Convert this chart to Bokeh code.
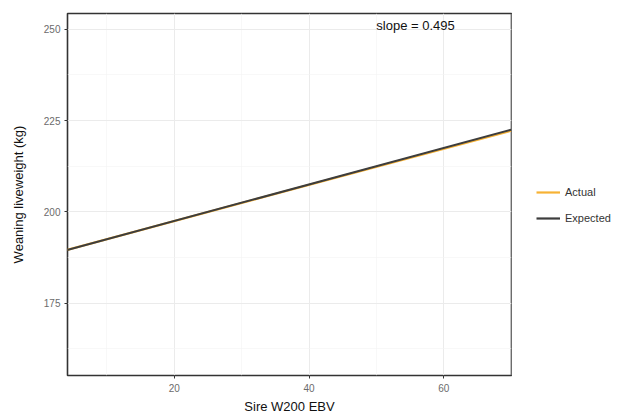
from bokeh.plotting import figure
from bokeh.layouts import row
from bokeh.models import Legend, LegendItem, FixedTicker, Range1d, Label
from bokeh.embed import file_html
from bokeh.resources import INLINE

# data
x_ends = [4.1, 70.0]
actual_y = [189.6, 222.2]
expected_y = [189.55, 222.5]
x_ticks = [20, 40, 60]
x_minor = [10, 30, 50, 70]
y_ticks = [175, 200, 225, 250]
y_minor = [162.5, 187.5, 212.5, 237.5]
slope_text = "slope = 0.495"
slope_pos = (55.8, 251.0)
series_names = ["Actual", "Expected"]
series_colors = ["#f7b234", "#3d3d3d"]

FONT = "Liberation Sans"

p = figure(output_backend="svg", toolbar_location=None,
           width=512, height=416,
           x_range=Range1d(4.15, 70.05), y_range=Range1d(155.2, 254.3),
           min_border_left=67, min_border_top=13, min_border_bottom=38,
           min_border_right=1)

p.background_fill_color = "white"
p.border_fill_color = "white"
p.outline_line_color = "#333333"
p.outline_line_width = 1.6

# grid
p.xaxis.ticker = FixedTicker(ticks=x_ticks, minor_ticks=x_minor)
p.yaxis.ticker = FixedTicker(ticks=y_ticks, minor_ticks=y_minor)
for g in (p.xgrid, p.ygrid):
    g.grid_line_color = "#ebebeb"
    g.grid_line_width = 1
    g.minor_grid_line_color = "#f3f3f3"
    g.minor_grid_line_width = 0.6

for ax in (p.xaxis, p.yaxis):
    ax.axis_line_color = None
    ax.major_tick_line_color = "#333333"
    ax.major_tick_in = 0
    ax.major_tick_out = 3
    ax.minor_tick_line_color = None
    ax.major_label_text_font = FONT
    ax.major_label_text_font_size = "10px"
    ax.major_label_text_color = "#6b6b6b"
    ax.axis_label_text_font = FONT
    ax.axis_label_text_font_size = "13px"
    ax.axis_label_text_font_style = "normal"
    ax.axis_label_text_color = "#111111"

p.xaxis.axis_label = "Sire W200 EBV"
p.yaxis.axis_label = "Weaning liveweight (kg)"
p.xaxis.major_label_standoff = 4
p.yaxis.major_label_standoff = 3
p.xaxis.axis_label_standoff = 4
p.yaxis.axis_label_standoff = 15

p.line(x_ends, actual_y, line_color=series_colors[0], line_width=2.2)
p.line(x_ends, expected_y, line_color=series_colors[1], line_width=2.0)

p.add_layout(Label(x=slope_pos[0], y=slope_pos[1], text=slope_text,
                   text_font=FONT, text_font_size="13px", text_color="#111111",
                   text_align="center", text_baseline="middle"))

# separate narrow figure that holds the legend, right of the panel
# (its ranges exclude the data, so only the legend keys are drawn)
lg = figure(output_backend="svg", toolbar_location=None,
            width=105, height=416, x_range=Range1d(0, 1), y_range=Range1d(0, 1),
            min_border=0)
lg.axis.visible = False
lg.grid.visible = False
lg.outline_line_color = None
lg.border_fill_color = "white"
lg.background_fill_color = "white"
ra = lg.line(x_ends, actual_y, line_color=series_colors[0], line_width=2.2)
rb = lg.line(x_ends, expected_y, line_color=series_colors[1], line_width=2.2)
legend = Legend(items=[LegendItem(label=series_names[0], renderers=[ra]),
                       LegendItem(label=series_names[1], renderers=[rb])],
                location=(24, 145), border_line_color=None,
                background_fill_alpha=0, label_text_font=FONT,
                label_text_font_size="11px", label_text_color="#333333",
                glyph_width=24, glyph_height=24, spacing=2, padding=4,
                margin=0, label_standoff=5)
lg.add_layout(legend, "center")

layout = row(p, lg, spacing=0)
open("out.html", "w").write(file_html(layout, INLINE))
